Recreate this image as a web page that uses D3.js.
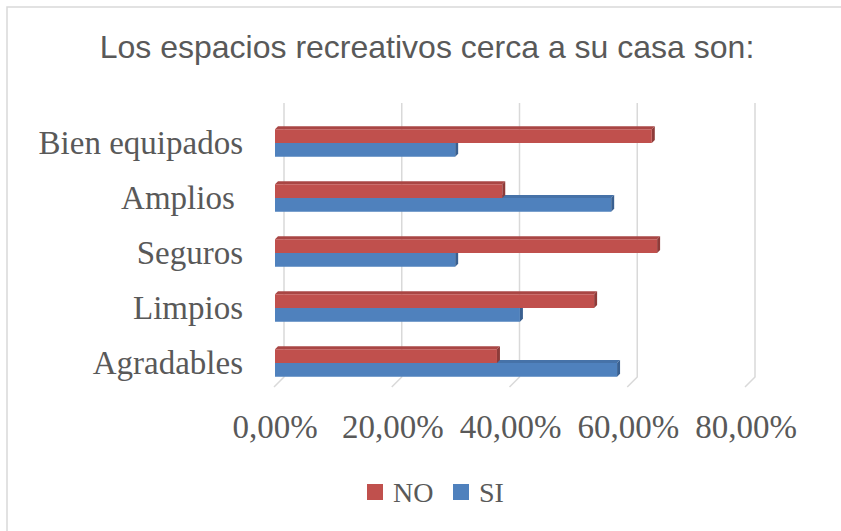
<!DOCTYPE html>
<html>
<head>
<meta charset="utf-8">
<script src="https://cdn.jsdelivr.net/npm/d3@7"></script>
<style>
  body { margin: 0; background: #fff; }
  svg { display: block; }
</style>
</head>
<body>
<script>
// data
var categories = ["Bien equipados", "Amplios ", "Seguros", "Limpios", "Agradables"];
var seriesNames = ["NO", "SI"];
var noValues = [0.640, 0.386, 0.649, 0.542, 0.377];
var siValues = [0.306, 0.571, 0.306, 0.416, 0.581];
var tickValues = [0, 0.2, 0.4, 0.6, 0.8];
var tickLabels = ["0,00%", "20,00%", "40,00%", "60,00%", "80,00%"];

var colors = { NO: "#C0504D", SI: "#4F81BD" };
var sideColors = { NO: "#8E3B39", SI: "#3A6090" };
var topColors = { NO: "#A94644", SI: "#4672A8" };

var W = 841, H = 531;
var depth = 3;          // bar depth (3d look)
var wallDx = 9, wallDy = 10; // back wall offset for gridlines

var svg = d3.select("body").append("svg")
    .attr("width", W)
    .attr("height", H);

// chart area border
svg.append("rect")
    .attr("x", 7).attr("y", 7)
    .attr("width", W + 10).attr("height", H + 10)
    .attr("fill", "none")
    .attr("stroke", "#d9d9d9")
    .attr("stroke-width", 1.5);

// scales
var x = d3.scaleLinear().domain([0, 0.8]).range([275, 746]);
var y = d3.scaleBand().domain(categories)
    .range([115.5, 390.5])
    .paddingInner(0.5)
    .paddingOuter(0.25);
var ySub = d3.scaleBand().domain(seriesNames).range([0, y.bandwidth()]);

// title
svg.append("text")
    .attr("x", 427)
    .attr("y", 58)
    .attr("text-anchor", "middle")
    .style("font-family", "'Liberation Sans', Arial, sans-serif")
    .style("font-size", "32px")
    .style("fill", "#595959")
    .text("Los espacios recreativos cerca a su casa son:");

// gridlines (back wall + floor foot)
var grid = svg.append("g").attr("class", "grid");
tickValues.forEach(function(v) {
    var bx = x(v) + wallDx;
    grid.append("path")
        .attr("d", "M" + bx + ",103 L" + bx + ",377 L" + (x(v) - 1) + "," + (377 + wallDy))
        .attr("fill", "none")
        .attr("stroke", "#d9d9d9")
        .attr("stroke-width", 1.5);
});

// bars
var rows = categories.map(function(c, i) {
    return { cat: c, NO: noValues[i], SI: siValues[i] };
});

function drawBar(g, x0, x1, y0, h, s) {
    var y1 = y0 + h;
    // top face
    g.append("path")
        .attr("d", "M" + x0 + "," + y0 + " L" + (x0 + depth) + "," + (y0 - depth) +
                   " L" + (x1 + depth) + "," + (y0 - depth) + " L" + x1 + "," + y0 + "Z")
        .attr("fill", topColors[s]);
    // side face
    g.append("path")
        .attr("d", "M" + x1 + "," + y0 + " L" + (x1 + depth) + "," + (y0 - depth) +
                   " L" + (x1 + depth) + "," + (y1 - depth) + " L" + x1 + "," + y1 + "Z")
        .attr("fill", sideColors[s]);
    // front face
    g.append("rect")
        .attr("x", x0).attr("y", y0)
        .attr("width", x1 - x0).attr("height", h)
        .attr("fill", colors[s]);
}

var bars = svg.append("g").attr("class", "bars");
// SI first so the NO bar sits over it
["SI", "NO"].forEach(function(s) {
    rows.forEach(function(d) {
        drawBar(bars, x(0), x(d[s]), y(d.cat) + ySub(s), ySub.bandwidth(), s);
    });
});

// category labels
svg.append("g").selectAll("text")
    .data(categories)
    .enter().append("text")
    .attr("x", 243)
    .attr("y", function(d) { return y(d) + y.bandwidth() / 2; })
    .attr("dy", "0.33em")
    .attr("text-anchor", "end")
    .style("white-space", "pre")
    .style("font-family", "'Liberation Serif', 'DejaVu Serif', serif")
    .style("font-size", "33px")
    .style("fill", "#595959")
    .text(function(d) { return d; });

// value axis labels
svg.append("g").selectAll("text")
    .data(tickValues)
    .enter().append("text")
    .attr("x", function(d) { return x(d); })
    .attr("y", 438)
    .attr("text-anchor", "middle")
    .style("font-family", "'Liberation Serif', 'DejaVu Serif', serif")
    .style("font-size", "33px")
    .style("fill", "#595959")
    .text(function(d, i) { return tickLabels[i]; });

// legend
var legendX = [367, 453];
var legend = svg.append("g").attr("class", "legend");
seriesNames.forEach(function(s, i) {
    legend.append("rect")
        .attr("x", legendX[i]).attr("y", 484)
        .attr("width", 16).attr("height", 16)
        .attr("fill", colors[s]);
    legend.append("text")
        .attr("x", legendX[i] + 26)
        .attr("y", 502)
        .style("font-family", "'Liberation Serif', 'DejaVu Serif', serif")
        .style("font-size", "28px")
        .style("fill", "#595959")
        .text(s);
});
</script>
</body>
</html>
